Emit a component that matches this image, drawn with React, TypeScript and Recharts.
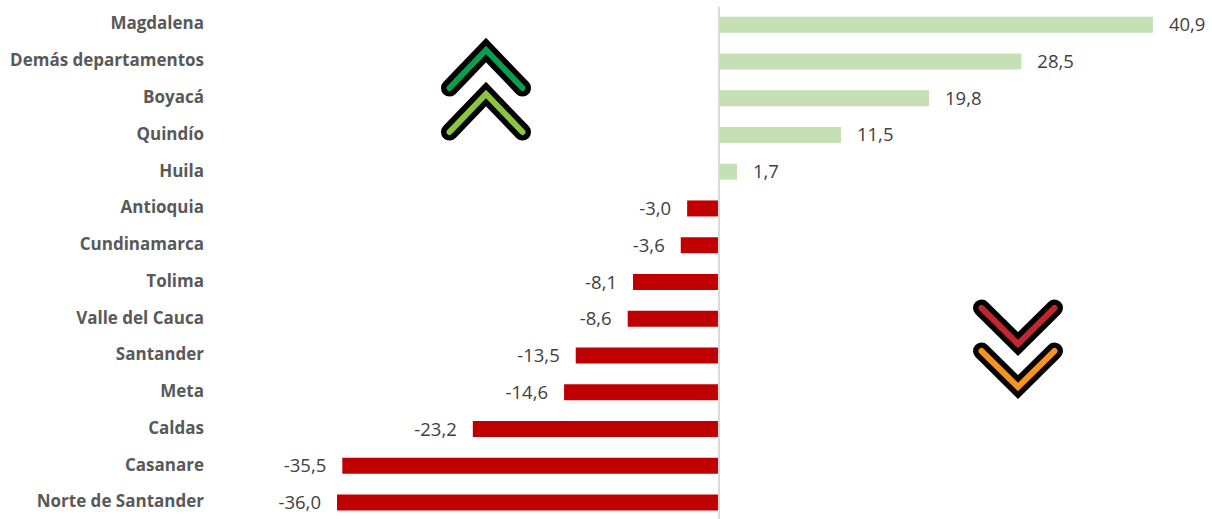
import React from "react";
import { BarChart, Bar, XAxis, YAxis, Cell, LabelList, ReferenceLine } from "recharts";

const departments = ["Magdalena","Demás departamentos","Boyacá","Quindío","Huila","Antioquia","Cundinamarca","Tolima","Valle del Cauca","Santander","Meta","Caldas","Casanare","Norte de Santander"];
const values = [40.9,28.5,19.8,11.5,1.7,-3.0,-3.6,-8.1,-8.6,-13.5,-14.6,-23.2,-35.5,-36.0];
const rows = departments.map((name, i) => ({ name, value: values[i] }));

const FONT = "'Open Sans', Lato, sans-serif";

const CategoryTick = (props: any) => (
  <text x={204} y={props.y - 1.5} dy="0.35em" textAnchor="end" fontFamily={FONT} fontWeight={700} fontSize={17} fill="#595959">
    {props.payload.value}
  </text>
);

const Chevron = ({ x, y, up, color }: { x: number; y: number; up: boolean; color: string }) => {
  const d = up ? `M${x - 36.5} ${y + 38} L${x} ${y} L${x + 36.5} ${y + 38}` : `M${x - 36.5} ${y - 36} L${x} ${y} L${x + 36.5} ${y - 36}`;
  return (
    <g fill="none" strokeLinecap="round" strokeLinejoin="miter">
      <path d={d} stroke="#000" strokeWidth={17} />
      <path d={d} stroke={color} strokeWidth={6} />
    </g>
  );
};

export default function App() {
  return (
    <div style={{ position: "absolute", left: 0, top: 0, width: 1212, height: 519, overflow: "hidden", background: "#fff" }}>
      <BarChart width={1212} height={522} data={rows} layout="vertical" margin={{ top: 6.65, right: 5, bottom: 0.7, left: 0 }} barCategoryGap={0}>
        <XAxis type="number" domain={[-48, 46]} hide />
        <YAxis type="category" dataKey="name" width={209.7} axisLine={false} tickLine={false} interval={0} tick={<CategoryTick />} />
        <Bar dataKey="value" barSize={16} isAnimationActive={false}>
          {rows.map((r) => (
            <Cell key={r.name} fill={r.value >= 0 ? "#c5e0b4" : "#c00000"} />
          ))}
          <LabelList dataKey="value" position="right" offset={16} formatter={(v: any) => Number(v).toFixed(1).replace(".", ",")} fontFamily={FONT} fontSize={18.5} fill="#404040" />
        </Bar>
        <ReferenceLine x={0} stroke="#d9d9d9" strokeWidth={2} />
      </BarChart>
      <svg width={1212} height={519} style={{ position: "absolute", left: 0, top: 0, pointerEvents: "none" }}>
        <Chevron x={486} y={50} up color="#0b9e4c" />
        <Chevron x={486} y={94} up color="#8cc63f" />
        <Chevron x={1018} y={344} up={false} color="#c1272d" />
        <Chevron x={1018} y={387} up={false} color="#f7931e" />
      </svg>
    </div>
  );
}
